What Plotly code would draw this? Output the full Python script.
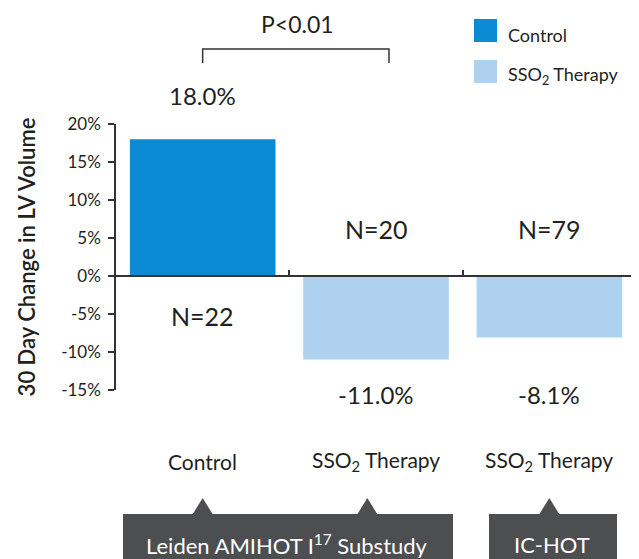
import plotly.graph_objects as go

# ---- data ----
categories = ["Control", "SSO<sub>2</sub> Therapy", "SSO<sub>2</sub> Therapy"]
groups = ["Control", "SSO2", "SSO2"]
values = [18.0, -11.0, -8.1]
n_labels = ["N=22", "N=20", "N=79"]
y_tickvals = [-15, -10, -5, 0, 5, 10, 15, 20]
y_ticktext = ["-15%", "-10%", "-5%", "0%", "5%", "10%", "15%", "20%"]
legend_names = ["Control", "SSO<sub>2</sub> Therapy"]
study_names = ["Leiden AMIHOT I<sup>17</sup> Substudy", "IC-HOT"]
p_text = "P<0.01"

# ---- style ----
W, H = 639, 559
OFF = 8  # page body margin offset
SX0, SX1, SY0, SY1 = 116, 636, 124, 390
L = SX0 - OFF
R = W - (SX1 - OFF)
T = SY0 - OFF
B = H - (SY1 - OFF)
C_DARK = "#0a8bd3"
C_LIGHT = "#add1ee"
TXT = "#231f20"
AX = "#333333"
BOX = "#4d4e50"
FONT = "Lato"
YMIN, YMAX = -15, 20

pw = SX1 - SX0
ph = SY1 - SY0


def px(x):
    return (x - SX0) / pw


def py(y):
    return (SY1 - y) / ph


colors = [C_DARK if g == "Control" else C_LIGHT for g in groups]
xs = list(range(len(values)))
band = pw / len(values)

fig = go.Figure()
fig.add_trace(go.Bar(
    x=xs, y=values, marker=dict(color=colors, line=dict(width=0)),
    width=0.84, showlegend=False, hoverinfo="skip",
))

annotations = []
for i, (v, n) in enumerate(zip(values, n_labels)):
    vy = 96 if v >= 0 else 394
    ny = 316 if v >= 0 else 229
    annotations.append(dict(x=i, y=py(vy), xref="x", yref="paper", text=f"{v:.1f}%",
                            showarrow=False, font=dict(size=24, color=TXT, family=FONT),
                            xanchor="center", yanchor="middle"))
    annotations.append(dict(x=i, y=py(ny), xref="x", yref="paper", text=n,
                            showarrow=False, font=dict(size=25, color=TXT, family=FONT),
                            xanchor="center", yanchor="middle"))
for i, c in enumerate(categories):
    annotations.append(dict(x=i, y=py(461), xref="x", yref="paper", text=c,
                            showarrow=False, font=dict(size=21, color=TXT, family=FONT),
                            xanchor="center", yanchor="middle"))
annotations.append(dict(x=px(297), y=py(24), xref="paper", yref="paper", text=p_text,
                        showarrow=False, font=dict(size=23, color=TXT, family=FONT),
                        xanchor="center", yanchor="middle"))
for name, ty in zip(legend_names, [35, 75]):
    annotations.append(dict(x=px(506), y=py(ty), xref="paper", yref="paper", text=name,
                            showarrow=False, font=dict(size=18, color=TXT, family=FONT),
                            xanchor="left", yanchor="middle"))
for name, cx in zip(study_names, [287, 552]):
    annotations.append(dict(x=px(cx), y=py(544), xref="paper", yref="paper", text=name,
                            showarrow=False, font=dict(size=22, color="white", family=FONT),
                            xanchor="center", yanchor="middle"))

shapes = []
for col, (y0, y1) in zip([C_DARK, C_LIGHT], [(19, 42), (60, 83)]):
    shapes.append(dict(type="rect", xref="paper", yref="paper",
                       x0=px(474), x1=px(497), y0=py(y1), y1=py(y0),
                       fillcolor=col, line=dict(width=0)))
bx0, bx1 = 0, (389 - SX0) / band - 0.5
shapes.append(dict(type="path", xref="x", yref="paper",
                   path=f"M {bx0},{py(63)} L {bx0},{py(49)} L {bx1},{py(49)} L {bx1},{py(63)}",
                   line=dict(color=AX, width=1.5)))
for x0, x1 in [(123, 453), (489, 617)]:
    shapes.append(dict(type="rect", xref="paper", yref="paper",
                       x0=px(x0), x1=px(x1), y0=py(575), y1=py(514),
                       fillcolor=BOX, line=dict(width=0)))
hw = 10.5 / band
tri_shift = [0.0, -0.05, 0.0]
for i, s in zip(xs, tri_shift):
    c = i + s
    shapes.append(dict(type="path", xref="x", yref="paper",
                       path=f"M {c - hw},{py(515)} L {c},{py(498)} L {c + hw},{py(515)} Z",
                       fillcolor=BOX, line=dict(width=0)))

fig.update_layout(
    width=W, height=H,
    margin=dict(l=L, r=R, t=T, b=B, pad=0, autoexpand=False),
    paper_bgcolor="white", plot_bgcolor="white",
    font=dict(family=FONT, color=TXT),
    showlegend=False,
    annotations=annotations,
    shapes=shapes,
    xaxis=dict(
        range=[-0.5, len(values) - 0.5], anchor="free",
        position=(0 - YMIN) / (YMAX - YMIN),
        showline=True, linecolor=AX, linewidth=1.5,
        ticks="inside", ticklen=5, tickwidth=1.5, tickcolor=AX,
        tickvals=[i + 0.5 for i in xs], showticklabels=False,
        showgrid=False, zeroline=False, fixedrange=True,
    ),
    yaxis=dict(
        range=[YMIN, YMAX], tickvals=y_tickvals, ticktext=y_ticktext,
        showline=True, linecolor=AX, linewidth=1.5,
        ticks="outside", ticklen=6, tickwidth=1.5, tickcolor=AX,
        ticklabelstandoff=4,
        tickfont=dict(size=17, color=TXT, family=FONT),
        showgrid=False, zeroline=False,
        title=dict(text="30 Day Change in LV Volume", standoff=19,
                   font=dict(size=22, color=TXT, family=FONT, weight=600)),
    ),
    bargap=0.16,
)

fig.write_html("out.html")
